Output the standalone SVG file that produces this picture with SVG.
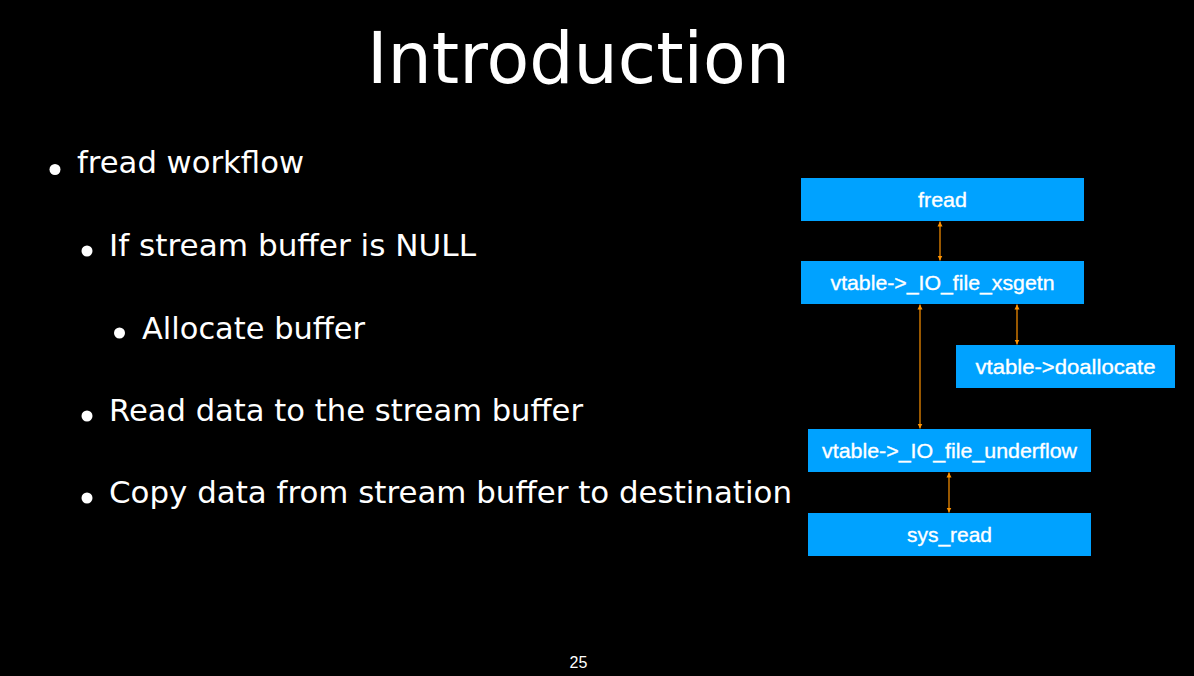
<svg xmlns="http://www.w3.org/2000/svg" width="1194" height="676" viewBox="0 0 1194 676">
  <defs>
    <style>
      .title { font-family: "DejaVu Sans", "Noto Sans", sans-serif; font-size: 71px; fill: #ffffff; }
      .bullet-text { font-family: "DejaVu Sans", "Noto Sans", sans-serif; font-size: 30px; fill: #ffffff; }
      .dot { fill: #ffffff; }
      .box { fill: #00a2ff; }
      .label { font-family: "Liberation Sans", Arial, sans-serif; font-size: 21px; fill: #ffffff; stroke: #ffffff; stroke-width: 0.35; text-anchor: middle; }
      .link { stroke: #ff9300; stroke-width: 1.2; fill: none; marker-start: url(#tip); marker-end: url(#tip); }
      .page { font-family: "Liberation Sans", Arial, sans-serif; font-size: 16px; fill: #ffffff; text-anchor: middle; }
    </style>
    <marker id="tip" viewBox="0 0 10 10" refX="10" refY="5" markerWidth="5" markerHeight="6" markerUnits="userSpaceOnUse" orient="auto-start-reverse">
      <path d="M0,0 L10,5 L0,10 z" fill="#ff9300"/>
    </marker>
  </defs>

  <rect width="1194" height="676" fill="#000000"/>

  <!-- heading -->
  <text class="title" x="367" y="83" textLength="423" lengthAdjust="spacingAndGlyphs">Introduction</text>

  <!-- bullet list -->
  <g id="bullets">
    <circle class="dot" cx="55" cy="169.5" r="5.5"/>
    <text class="bullet-text" x="77" y="173" textLength="227" lengthAdjust="spacingAndGlyphs">fread workflow</text>
    <circle class="dot" cx="87" cy="251" r="5.5"/>
    <text class="bullet-text" x="109" y="256" textLength="367" lengthAdjust="spacingAndGlyphs">If stream buffer is NULL</text>
    <circle class="dot" cx="119.5" cy="333" r="5.5"/>
    <text class="bullet-text" x="142" y="339" textLength="223" lengthAdjust="spacingAndGlyphs">Allocate buffer</text>
    <circle class="dot" cx="87" cy="416" r="5.5"/>
    <text class="bullet-text" x="109" y="421" textLength="474" lengthAdjust="spacingAndGlyphs">Read data to the stream buffer</text>
    <circle class="dot" cx="87" cy="498" r="5.5"/>
    <text class="bullet-text" x="109" y="503" textLength="683" lengthAdjust="spacingAndGlyphs">Copy data from stream buffer to destination</text>
  </g>

  <!-- call chain connectors -->
  <g id="connectors">
    <line class="link" x1="940" y1="221.5" x2="940" y2="260.5"/>
    <line class="link" x1="920" y1="304.5" x2="920" y2="428.5"/>
    <line class="link" x1="1017" y1="304.5" x2="1017" y2="344.5"/>
    <line class="link" x1="949" y1="472.5" x2="949" y2="512.5"/>
  </g>

  <!-- call chain nodes -->
  <g id="node-fread">
    <rect class="box" x="801" y="178" width="283" height="43"/>
    <text class="label" x="942.5" y="207" textLength="49" lengthAdjust="spacingAndGlyphs">fread</text>
  </g>
  <g id="node-xsgetn">
    <rect class="box" x="801" y="261" width="283" height="43"/>
    <text class="label" x="942.5" y="289.5" textLength="224" lengthAdjust="spacingAndGlyphs">vtable-&gt;_IO_file_xsgetn</text>
  </g>
  <g id="node-doallocate">
    <rect class="box" x="956" y="345" width="219" height="43"/>
    <text class="label" x="1065.5" y="373.5" textLength="180" lengthAdjust="spacingAndGlyphs">vtable-&gt;doallocate</text>
  </g>
  <g id="node-underflow">
    <rect class="box" x="808" y="429" width="283" height="43"/>
    <text class="label" x="949.5" y="458" textLength="255" lengthAdjust="spacingAndGlyphs">vtable-&gt;_IO_file_underflow</text>
  </g>
  <g id="node-sysread">
    <rect class="box" x="808" y="513" width="283" height="43"/>
    <text class="label" x="949.5" y="542" textLength="85" lengthAdjust="spacingAndGlyphs">sys_read</text>
  </g>

  <!-- slide number -->
  <text class="page" x="578.5" y="668">25</text>
</svg>
